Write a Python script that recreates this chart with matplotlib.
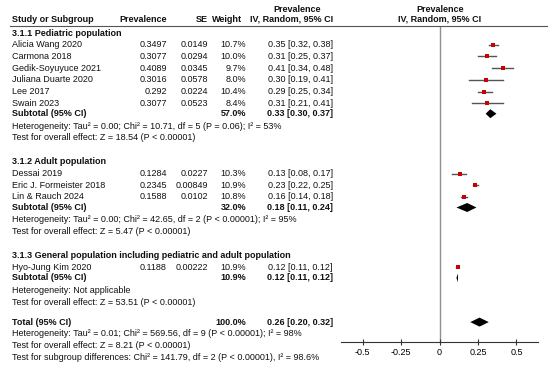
import matplotlib
matplotlib.use("Agg")
import matplotlib.pyplot as plt
from matplotlib.patches import Polygon

plt.rcParams["font.family"] = ["Liberation Sans", "DejaVu Sans"]

W, H = 550, 378
FS = 6.5

# ---- data ----
groups = ["3.1.1 Pediatric population", "3.1.2 Adult population",
          "3.1.3 General population including pediatric and adult population"]

studies = [
    ["Alicia Wang 2020", "Carmona 2018", "Gedik-Soyuyuce 2021",
     "Juliana Duarte 2020", "Lee 2017", "Swain 2023"],
    ["Dessai 2019", "Eric J. Formeister 2018", "Lin & Rauch 2024"],
    ["Hyo-Jung Kim 2020"],
]
prev_txt = [
    ["0.3497", "0.3077", "0.4089", "0.3016", "0.292", "0.3077"],
    ["0.1284", "0.2345", "0.1588"],
    ["0.1188"],
]
se_txt = [
    ["0.0149", "0.0294", "0.0345", "0.0578", "0.0224", "0.0523"],
    ["0.0227", "0.00849", "0.0102"],
    ["0.00222"],
]
weights = [
    [10.7, 10.0, 9.7, 8.0, 10.4, 8.4],
    [10.3, 10.9, 10.8],
    [10.9],
]
est = [
    [0.35, 0.31, 0.41, 0.30, 0.29, 0.31],
    [0.13, 0.23, 0.16],
    [0.12],
]
lo = [
    [0.32, 0.25, 0.34, 0.19, 0.25, 0.21],
    [0.08, 0.22, 0.14],
    [0.11],
]
hi = [
    [0.38, 0.37, 0.48, 0.41, 0.34, 0.41],
    [0.17, 0.25, 0.18],
    [0.12],
]
sub_weight = [57.0, 32.0, 10.9]
sub_est = [0.33, 0.18, 0.12]
sub_lo = [0.30, 0.11, 0.11]
sub_hi = [0.37, 0.24, 0.12]
sub_het = [
    "Heterogeneity: Tau² = 0.00; Chi² = 10.71, df = 5 (P = 0.06); I² = 53%",
    "Heterogeneity: Tau² = 0.00; Chi² = 42.65, df = 2 (P < 0.00001); I² = 95%",
    "Heterogeneity: Not applicable",
]
sub_test = [
    "Test for overall effect: Z = 18.54 (P < 0.00001)",
    "Test for overall effect: Z = 5.47 (P < 0.00001)",
    "Test for overall effect: Z = 53.51 (P < 0.00001)",
]
total_est, total_lo, total_hi = 0.26, 0.20, 0.32
total_notes = [
    "Heterogeneity: Tau² = 0.01; Chi² = 569.56, df = 9 (P < 0.00001); I² = 98%",
    "Test for overall effect: Z = 8.21 (P < 0.00001)",
    "Test for subgroup differences: Chi² = 141.79, df = 2 (P < 0.00001), I² = 98.6%",
]
xticks = [-0.5, -0.25, 0, 0.25, 0.5]
xticklabels = ["-0.5", "-0.25", "0", "0.25", "0.5"]

# ---- layout (pixels) ----
Y0 = 33
STEP = 11.7        # study rows
TO_SUB = 10.5      # last study -> subtotal
TO_HET = 12.5      # subtotal -> heterogeneity
GAP_GROUP = 24     # test line -> next subgroup header
GAP_TOTAL = 20     # last test line -> total
X_NAME, X_PREV, X_SE, X_WT, X_CI = 12, 167, 208, 246, 333
AX_L, AX_R, AX_TOP, AX_BOT = 341, 538, 26, 342

fig = plt.figure(figsize=(W / 100, H / 100), dpi=100)
fig.patch.set_facecolor("white")


def t(x, y, s, ha="left", bold=False):
    fig.text(x / W, 1 - y / H, s, ha=ha, va="center", fontsize=FS,
             fontweight="bold" if bold else "normal", color="#111111")


ax = fig.add_axes([AX_L / W, 1 - AX_BOT / H, (AX_R - AX_L) / W, (AX_BOT - AX_TOP) / H])
ax.set_xlim(-0.64, 0.64)
ax.set_ylim(AX_BOT, AX_TOP)
for s in ["top", "left", "right"]:
    ax.spines[s].set_visible(False)
ax.spines["bottom"].set_color("#333333")
ax.spines["bottom"].set_linewidth(0.8)
ax.set_yticks([])
ax.set_xticks(xticks)
ax.set_xticklabels(xticklabels, fontsize=FS)
ax.tick_params(axis="x", direction="inout", length=5, width=0.8, color="#333333", pad=2)
ax.axvline(0, color="#909090", lw=1.0, zorder=0)


def diamond(x, l, r, y, h=4.5):
    ax.add_patch(Polygon([(l, y), (x, y - h), (r, y), (x, y + h)],
                         closed=True, color="black", lw=0))


# header
t(297, 9, "Prevalence", ha="center", bold=True)
t(440, 9, "Prevalence", ha="center", bold=True)
t(X_NAME, 19, "Study or Subgroup", bold=True)
t(X_PREV, 19, "Prevalence", ha="right", bold=True)
t(X_SE, 19, "SE", ha="right", bold=True)
t(X_WT - 4, 19, "Weight", ha="right", bold=True)
t(X_CI, 19, "IV, Random, 95% CI", ha="right", bold=True)
t(440, 19, "IV, Random, 95% CI", ha="center", bold=True)
fig.add_artist(plt.Line2D([10 / W, 547 / W], [1 - 26 / H, 1 - 26 / H],
                          color="#555555", lw=0.8))

y = Y0
for g in range(len(groups)):
    if g > 0:
        y += GAP_GROUP
    t(X_NAME, y, groups[g], bold=True)
    for i in range(len(studies[g])):
        y += STEP
        t(X_NAME, y, studies[g][i])
        t(X_PREV, y, prev_txt[g][i], ha="right")
        t(X_SE, y, se_txt[g][i], ha="right")
        t(X_WT, y, f"{weights[g][i]:.1f}%", ha="right")
        t(X_CI, y, f"{est[g][i]:.2f} [{lo[g][i]:.2f}, {hi[g][i]:.2f}]", ha="right")
        ax.plot([lo[g][i], hi[g][i]], [y, y], color="#555555", lw=1.0, zorder=2)
        ax.plot(est[g][i], y, "s", color="#cc0000", ms=2.8, mew=0, zorder=3)
    y += TO_SUB
    t(X_NAME, y, "Subtotal (95% CI)", bold=True)
    t(X_WT, y, f"{sub_weight[g]:.1f}%", ha="right", bold=True)
    t(X_CI, y, f"{sub_est[g]:.2f} [{sub_lo[g]:.2f}, {sub_hi[g]:.2f}]", ha="right", bold=True)
    if sub_hi[g] - sub_lo[g] > 0.005:
        diamond(sub_est[g], sub_lo[g], sub_hi[g], y)
    else:
        diamond(sub_est[g], sub_est[g] - 0.004, sub_est[g] + 0.004, y)
    y += TO_HET
    t(X_NAME, y, sub_het[g])
    y += STEP
    t(X_NAME, y, sub_test[g])

y += GAP_TOTAL
t(X_NAME, y, "Total (95% CI)", bold=True)
t(X_WT, y, "100.0%", ha="right", bold=True)
t(X_CI, y, f"{total_est:.2f} [{total_lo:.2f}, {total_hi:.2f}]", ha="right", bold=True)
diamond(total_est, total_lo, total_hi, y)
for note in total_notes:
    y += STEP
    t(X_NAME, y, note)

fig.savefig("out.png", dpi=100, facecolor="white")
